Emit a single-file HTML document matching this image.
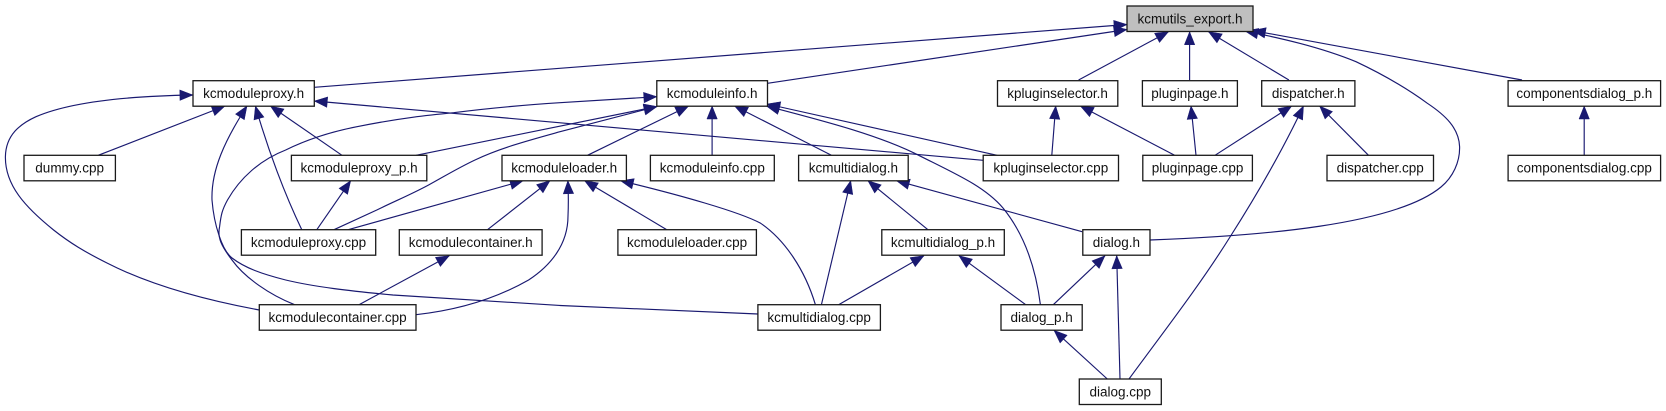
<!DOCTYPE html>
<html><head><meta charset="utf-8"><style>
html,body{margin:0;padding:0;background:#fff}
svg{display:block}
text{font-family:"Liberation Sans",sans-serif;font-size:13.5px;text-anchor:middle;fill:#111}
rect{fill:#fff;stroke:#1a1a1a;stroke-width:1.3}
path{fill:none;stroke:#191970;stroke-width:1.15;marker-end:url(#a)}
</style></head><body>
<svg width="1666" height="411" viewBox="0 0 1666 411" xmlns="http://www.w3.org/2000/svg">
<defs><marker id="a" markerUnits="userSpaceOnUse" markerWidth="14" markerHeight="12" viewBox="0 0 14 12" refX="13.5" refY="6" orient="auto"><polygon points="0.5,0.8 13.5,6 0.5,11.2" fill="#191970" stroke="#191970" stroke-width="0.5"/></marker></defs>

<path d="M314.3,87.3 L1127,24.5"/>
<path d="M767.5,83.3 L1127,29.5"/>
<path d="M1078.6,80 L1168.5,31.7"/>
<path d="M1189.6,80 L1189.6,31.7"/>
<path d="M1288.9,80 L1208.5,31.7"/>
<path d="M1522,80 L1252.5,30.5"/>
<path d="M1150,240 C1260,236 1395,225 1441,187 C1453,177 1460,162 1459.6,146.7 C1459,128 1445,115 1427.4,103.3 C1405,87 1380,73 1356,61.7 C1320,47 1280,38 1245,31"/>

<path d="M259.3,310 C205,300 150,285 107,263 C85,252 70,243 53.6,230 C25,207 5,185 5.4,156.7 C5.8,135 20,124 36,116.7 C70,102 130,96 192.9,95"/>
<path d="M98.2,155.3 L225,106"/>
<path d="M342,155.3 L270.4,106"/>
<path d="M301.8,229.7 C285,195 268,150 255.4,106"/>
<path d="M757.9,314 L560,305.5 C500,302 440,298 392.9,295 C350,291 315,287 285.7,280 C262,274 245,268 232,258 C222,250 214,225 212,200 C211,170 225,140 247,106"/>
<path d="M983.2,160.3 L314.3,101"/>

<path d="M294.6,304.7 C270,295 245,278 232,260 C222,247 217,238 219.6,226.7 C221,215 222,210 227.5,200 C240,178 260,160 285.7,150 C310,138 335,131 357,126.7 C400,118 430,115 453.6,112.7 C490,108 525,105 560,102.7 L656.8,96.7"/>
<path d="M416,155.3 L657,106.5"/>
<path d="M334,229.7 L376.8,210 C395,201 410,195 428.6,185 C445,176 458,168 475,160 C500,148 530,140 560,131.7 L657,106.5"/>
<path d="M348.2,229.7 L523.2,180.7"/>
<path d="M316.8,229.7 L350.7,180.7"/>
<path d="M487.5,229.7 L550,180.7"/>

<path d="M587.5,155.3 L688.6,106"/>
<path d="M712.1,155.3 L712.1,106"/>
<path d="M831.4,155.3 L734.6,106"/>
<path d="M997.1,155.3 L767,104"/>
<path d="M1040.4,304.7 C1036,270 1025,235 1003,208 C985,187 958,175 921.4,156.7 C880,135 820,120 766.4,106"/>

<path d="M1051.8,155.3 L1055.7,106"/>
<path d="M1174.6,155.3 L1080.4,106"/>
<path d="M1196,155.3 L1191,106"/>
<path d="M1215,155.3 L1291.7,106"/>
<path d="M1129,379 C1165,330 1200,285 1230,237 C1260,190 1285,145 1303.5,106"/>
<path d="M1368.5,155.3 L1319.6,106"/>
<path d="M1584.2,155.3 L1584.2,106"/>

<path d="M416,314.7 C450,311 490,302 528.6,280 C550,266 568,245 568,216 C568.5,205 568.5,195 567.9,180.7"/>
<path d="M666.8,229.7 L584.6,180.7"/>
<path d="M815.4,304.7 C805,270 785,240 760.7,223.3 C740,212 680,195 620.4,180.7"/>
<path d="M821.4,304.7 L850.7,180.7"/>
<path d="M927.9,229.7 L867.9,180.7"/>
<path d="M1082.1,231.7 L896.4,180.7"/>
<path d="M838.6,304.7 L923.9,255.7"/>
<path d="M1025.7,304.7 L958.9,255.7"/>
<path d="M1053.3,304.7 L1105,255.7"/>
<path d="M1120,379 L1116.7,255.7"/>
<path d="M1107.3,379 L1054,330.3"/>
<path d="M359,304.7 L449.3,255.7"/>

<rect x="1127" y="6" width="126" height="25.5" style="fill:#bfbfbf"/><text x="1190" y="23.5">kcmutils_export.h</text>

<rect x="193" y="80.7" width="121.3" height="25.5"/><text x="253.6" y="98">kcmoduleproxy.h</text>
<rect x="656.8" y="80.7" width="110.7" height="25.5"/><text x="712.1" y="98">kcmoduleinfo.h</text>
<rect x="997.5" y="80.7" width="120.3" height="25.5"/><text x="1057.6" y="98">kpluginselector.h</text>
<rect x="1142.4" y="80.7" width="95" height="25.5"/><text x="1189.9" y="98">pluginpage.h</text>
<rect x="1261.7" y="80.7" width="93.2" height="25.5"/><text x="1308.3" y="98">dispatcher.h</text>
<rect x="1508.1" y="80.7" width="152.5" height="25.5"/><text x="1584.3" y="98">componentsdialog_p.h</text>

<rect x="24" y="155.3" width="91.4" height="25.5"/><text x="69.7" y="172.6">dummy.cpp</text>
<rect x="291.4" y="155.3" width="135.4" height="25.5"/><text x="359.1" y="172.6">kcmoduleproxy_p.h</text>
<rect x="502" y="155.3" width="124.4" height="25.5"/><text x="564.2" y="172.6">kcmoduleloader.h</text>
<rect x="650.4" y="155.3" width="123.9" height="25.5"/><text x="712.3" y="172.6">kcmoduleinfo.cpp</text>
<rect x="798.6" y="155.3" width="109.6" height="25.5"/><text x="853.4" y="172.6">kcmultidialog.h</text>
<rect x="983.2" y="155.3" width="135.3" height="25.5"/><text x="1050.8" y="172.6">kpluginselector.cpp</text>
<rect x="1142.8" y="155.3" width="109.6" height="25.5"/><text x="1197.6" y="172.6">pluginpage.cpp</text>
<rect x="1327" y="155.3" width="106.5" height="25.5"/><text x="1380.2" y="172.6">dispatcher.cpp</text>
<rect x="1508.1" y="155.3" width="152.5" height="25.5"/><text x="1584.3" y="172.6">componentsdialog.cpp</text>

<rect x="241.4" y="229.7" width="134.3" height="25.5"/><text x="308.5" y="247">kcmoduleproxy.cpp</text>
<rect x="399.3" y="229.7" width="142.8" height="25.5"/><text x="470.7" y="247">kcmodulecontainer.h</text>
<rect x="617.9" y="229.7" width="138.5" height="25.5"/><text x="687.1" y="247">kcmoduleloader.cpp</text>
<rect x="881.8" y="229.7" width="122.5" height="25.5"/><text x="943" y="247">kcmultidialog_p.h</text>
<rect x="1082.8" y="229.7" width="67.2" height="25.5"/><text x="1116.4" y="247">dialog.h</text>

<rect x="259.3" y="304.7" width="156.7" height="25.5"/><text x="337.6" y="322">kcmodulecontainer.cpp</text>
<rect x="757.9" y="304.7" width="122.5" height="25.5"/><text x="819.1" y="322">kcmultidialog.cpp</text>
<rect x="1001" y="304.7" width="81.2" height="25.5"/><text x="1041.6" y="322">dialog_p.h</text>

<rect x="1079.3" y="379" width="82" height="25.5"/><text x="1120.3" y="396.3">dialog.cpp</text>
</svg>
</body></html>
